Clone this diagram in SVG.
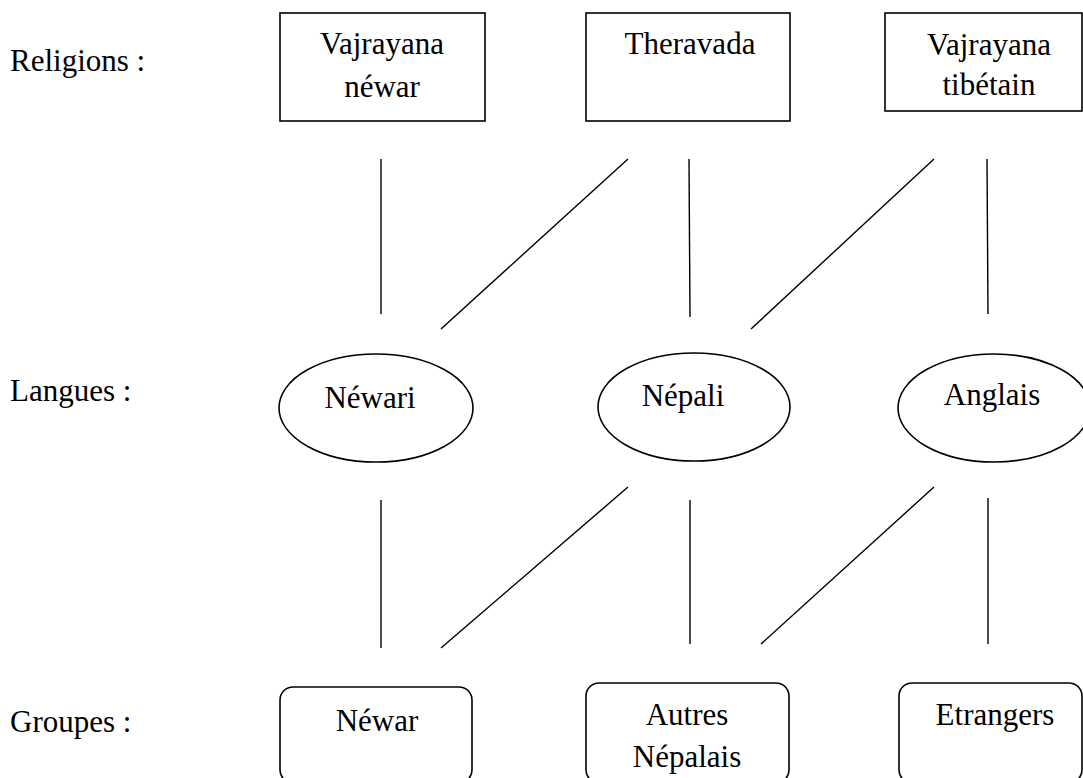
<svg xmlns="http://www.w3.org/2000/svg" width="1083" height="778" viewBox="0 0 1083 778">
<style>
text{font-family:"Liberation Serif","Times New Roman",serif;font-size:31px;fill:#000}
.c{text-anchor:middle}
.n{fill:#fff;stroke:#000;stroke-width:1.6}
#connectors line{stroke:#000;stroke-width:1.4}
</style>
<rect width="1083" height="778" fill="#fff"/>
<g id="labels">
<text x="10" y="71">Religions :</text>
<text x="10" y="401">Langues :</text>
<text x="10" y="732">Groupes :</text>
</g>
<g id="connectors">
<line x1="381" y1="159" x2="381" y2="314"/>
<line x1="628" y1="159" x2="441" y2="329"/>
<line x1="689" y1="159" x2="690" y2="317"/>
<line x1="934" y1="159" x2="751" y2="329"/>
<line x1="987" y1="159" x2="988" y2="314"/>
<line x1="381" y1="500" x2="381" y2="648"/>
<line x1="628" y1="487" x2="441" y2="648"/>
<line x1="690" y1="500" x2="690" y2="644"/>
<line x1="934" y1="487" x2="761" y2="644"/>
<line x1="988" y1="498" x2="988" y2="644"/>
</g>
<g id="vajrayana-newar">
<rect class="n" x="280" y="13" width="205" height="108"/>
<text class="c" x="382" y="54">Vajrayana</text>
<text class="c" x="382" y="97">néwar</text>
</g>
<g id="theravada">
<rect class="n" x="586" y="13" width="204" height="108"/>
<text class="c" x="690" y="54">Theravada</text>
</g>
<g id="vajrayana-tibetain">
<rect class="n" x="885" y="13" width="197" height="98"/>
<text class="c" x="989" y="55">Vajrayana</text>
<text class="c" x="989" y="95">tibétain</text>
</g>
<g id="newari">
<ellipse class="n" cx="376" cy="408" rx="97" ry="54"/>
<text class="c" x="370" y="408">Néwari</text>
</g>
<g id="nepali">
<ellipse class="n" cx="694" cy="407" rx="96" ry="54"/>
<text class="c" x="683" y="406">Népali</text>
</g>
<g id="anglais">
<ellipse class="n" cx="994" cy="408" rx="96" ry="54"/>
<text class="c" x="992" y="405">Anglais</text>
</g>
<g id="newar">
<rect class="n" x="280" y="687" width="192" height="96" rx="13"/>
<text class="c" x="377" y="731">Néwar</text>
</g>
<g id="autres-nepalais">
<rect class="n" x="586" y="683" width="203" height="100" rx="13"/>
<text class="c" x="687" y="725">Autres</text>
<text class="c" x="687" y="767">Népalais</text>
</g>
<g id="etrangers">
<rect class="n" x="899" y="683" width="183" height="100" rx="13"/>
<text class="c" x="995" y="725">Etrangers</text>
</g>
</svg>
